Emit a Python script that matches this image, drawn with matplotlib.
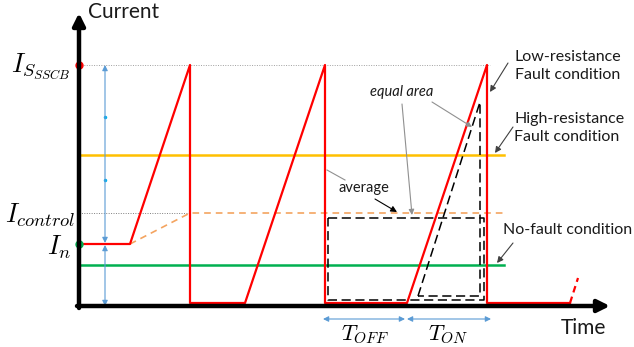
import matplotlib.pyplot as plt

plt.rcParams['mathtext.fontset'] = 'cm'

# --- levels (current, arbitrary units) ---
I_SSCB = 241
I_HIGH = 151
I_CTRL = 93
I_N = 62
I_NOFAULT = 41
I_LOW = 3

# --- red current waveform ---
wave_t = [0, 51, 111, 111, 166, 246, 246, 328, 408, 408, 491]
wave_i = [I_N, I_N, I_SSCB, I_LOW, I_LOW, I_SSCB, I_LOW, I_LOW, I_SSCB, I_LOW, I_LOW]
tail_t = [491, 499]
tail_i = [I_LOW, 28]

# orange dashed average
avg_t = [51, 111, 425]
avg_i = [I_N, I_CTRL, I_CTRL]

# black dashed "equal area" shapes
box_t = [249, 405, 405, 249, 249]
box_i = [88, 88, 6, 6, 88]
tri_t = [339, 401, 401, 339]
tri_i = [10, 204, 10, 10]

T_END = 425
T_OFF = (244, 326)
T_ON = (328, 412)

fig = plt.figure(figsize=(6.34, 3.47), dpi=100)
ax = fig.add_axes([0, 0, 1, 1])
ax.set_xlim(-79, 555)
ax.set_ylim(-41, 306)
ax.axis('off')

# reference lines
ax.plot([0, 411], [I_SSCB, I_SSCB], ls=(0, (1, 1.5)), color='#a0a0a0', lw=0.7)
ax.plot([0, 111], [I_CTRL, I_CTRL], ls=(0, (1, 1.5)), color='#808080', lw=0.7)
ax.plot([0, T_END], [I_HIGH, I_HIGH], color='#ffc000', lw=1.8)
ax.plot([0, T_END], [I_NOFAULT, I_NOFAULT], color='#00b050', lw=1.8)
ax.plot(avg_t, avg_i, ls=(0, (4, 3)), color='#f4a460', lw=1.2)

# black dashed equal area
ax.plot(box_t, box_i, ls=(0, (6, 3)), color='black', lw=1.1)
ax.plot(tri_t, tri_i, ls=(0, (6, 3)), color='black', lw=1.1)

# waveform
ax.plot(wave_t, wave_i, color='red', lw=1.6)
ax.plot(tail_t, tail_i, color='red', lw=1.6, ls=(0, (3, 2)))

# blue range arrows
blue = '#5b9bd5'
for a, b in [(I_SSCB, I_N + 1), (I_N - 1, 0)]:
    ax.annotate('', xy=(26, a), xytext=(26, b),
                arrowprops=dict(arrowstyle='<|-|>', color=blue, lw=0.8,
                                mutation_scale=8, shrinkA=0, shrinkB=0))
ax.plot([26, 26], [189, 126], 'o', color='#00b0f0', ms=1.5)

for t0, t1 in [T_OFF, T_ON]:
    ax.annotate('', xy=(t0, -13), xytext=(t1, -13),
                arrowprops=dict(arrowstyle='<|-|>', color=blue, lw=0.8,
                                mutation_scale=8, shrinkA=0, shrinkB=0))

# axes arrows
ax.annotate('', xy=(0, 293), xytext=(0, -2),
            arrowprops=dict(arrowstyle='-|>', color='black', lw=3.2,
                            mutation_scale=18, shrinkA=0, shrinkB=0))
ax.annotate('', xy=(531, 0), xytext=(-2, 0),
            arrowprops=dict(arrowstyle='-|>', color='black', lw=3.2,
                            mutation_scale=18, shrinkA=0, shrinkB=0))
ax.plot([0], [I_SSCB], 'o', color='red', ms=5)
ax.plot([0], [I_N], 'o', color='#00b050', ms=5)

# labels
txt = dict(family='Lato', color='#1a1a1a')
ax.text(9, 294, 'Current', fontsize=15, ha='left', va='center', **txt)
ax.text(482, -22, 'Time', fontsize=15, ha='left', va='center', **txt)
ax.text(-8, 239, r'$I_{S_{SSCB}}$', fontsize=19, ha='right', va='center')
ax.text(-4, 91, r'$I_{control}$', fontsize=19, ha='right', va='center')
ax.text(-8, 59, r'$I_n$', fontsize=19, ha='right', va='center')
ax.text(286, -40.5, r'$T_{OFF}$', fontsize=16, ha='center', va='bottom')
ax.text(369, -40.5, r'$T_{ON}$', fontsize=16, ha='center', va='bottom')

blk = dict(arrowstyle='-|>', color='#404040', lw=0.8, mutation_scale=9,
           shrinkA=0, shrinkB=0)
ax.annotate('', xy=(411, 214), xytext=(429, 243), arrowprops=blk)
ax.text(436, 240, 'Low-resistance\nFault condition', fontsize=11.5, ha='left',
        va='center', linespacing=1.45, **txt)
ax.annotate('', xy=(416, 153), xytext=(434, 179), arrowprops=blk)
ax.text(435, 178, 'High-resistance\nFault condition', fontsize=11.5, ha='left',
        va='center', linespacing=1.45, **txt)
ax.annotate('', xy=(418, 43), xytext=(434, 63), arrowprops=blk)
ax.text(424, 76, 'No-fault condition', fontsize=11.5, ha='left',
        va='center', **txt)

gray = dict(arrowstyle='-|>', color='#909090', lw=0.8, mutation_scale=8,
            shrinkA=0, shrinkB=0)
ax.text(323, 214, 'equal area', fontsize=10.5, style='italic', ha='center',
        va='center', **txt)
ax.annotate('', xy=(333, 91), xytext=(323, 202), arrowprops=gray)
ax.annotate('', xy=(393, 179), xytext=(353, 204), arrowprops=gray)
ax.text(285, 118, 'average', fontsize=10.5, ha='center', va='center', **txt)
ax.plot([248, 266], [136, 126], color='#909090', lw=0.8)
ax.annotate('', xy=(318, 94), xytext=(296, 107),
            arrowprops=dict(arrowstyle='-|>', color='black', lw=0.8,
                            mutation_scale=9, shrinkA=0, shrinkB=0))

fig.savefig('out.png', dpi=100)
